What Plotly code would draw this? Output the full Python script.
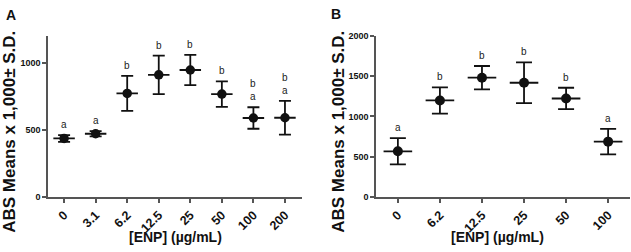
import plotly.graph_objects as go

# ---- data ----
cats_a = ["0", "3.1", "6.2", "12.5", "25", "50", "100", "200"]
mean_a = [436, 471, 771, 909, 945, 766, 588, 590]
sd_a = [25, 20, 130, 143, 113, 95, 80, 125]
letters_a = ["a", "a", "b", "b", "b", "b", "b<br>a", "b<br>a"]

cats_b = ["0", "6.2", "12.5", "25", "50", "100"]
mean_b = [567, 1198, 1480, 1417, 1222, 687]
sd_b = [163, 163, 145, 252, 133, 159]
letters_b = ["a", "b", "b", "b", "b", "a"]

ytick_a = [0, 500, 1000]
ytick_b = [0, 500, 1000, 1500, 2000]

FONT = "Liberation Sans, Arial, sans-serif"
W, H = 631, 252
INK = "#111111"
AX = "#555555"

fig = go.Figure()

def add_panel(cats, mean, sd, xa, ya, capw, meanw, msize):
    xs = list(range(len(cats)))
    fig.add_trace(go.Scatter(
        x=xs, y=mean, mode="markers",
        marker=dict(color=INK, size=msize),
        error_y=dict(type="data", array=sd, visible=True, color=INK, thickness=1.8, width=capw),
        error_x=dict(type="constant", value=meanw, visible=True, color=INK, thickness=1.8, width=0),
        xaxis=xa, yaxis=ya, showlegend=False, hoverinfo="skip",
    ))

add_panel(cats_a, mean_a, sd_a, "x", "y", 6, 0.34, 9.5)
add_panel(cats_b, mean_b, sd_b, "x2", "y2", 8, 0.34, 10)

ann = []
for i, (m, s, t) in enumerate(zip(mean_a, sd_a, letters_a)):
    ann.append(dict(x=i, y=m + s, xref="x", yref="y", text=t, showarrow=False,
                    yanchor="bottom", yshift=3, font=dict(family=FONT, size=10, color="#222")))
for i, (m, s, t) in enumerate(zip(mean_b, sd_b, letters_b)):
    ann.append(dict(x=i, y=m + s, xref="x2", yref="y2", text=t, showarrow=False,
                    yanchor="bottom", yshift=3, font=dict(family=FONT, size=10, color="#222")))

ytitle = "ABS Means x 1,000± S.D."
xtitle = "[ENP] (µg/mL)"
for xc, txt in [(10 / W, ytitle), (339 / W, ytitle)]:
    ann.append(dict(x=xc, y=1 - 132 / H, xref="paper", yref="paper", text="<b>%s</b>" % txt,
                    textangle=-90, showarrow=False, xanchor="center", yanchor="middle",
                    font=dict(family=FONT, size=17, color=INK)))
for xc in [175 / W, 497 / W]:
    ann.append(dict(x=xc, y=1 - 242 / H, xref="paper", yref="paper", text="<b>%s</b>" % xtitle,
                    showarrow=False, xanchor="center", yanchor="middle",
                    font=dict(family=FONT, size=14, color=INK)))
for xc, yc, t in [(11 / W, 1 - 10 / H, "A"), (336 / W, 1 - 9 / H, "B")]:
    ann.append(dict(x=xc, y=yc, xref="paper", yref="paper", text="<b>%s</b>" % t,
                    showarrow=False, xanchor="center", yanchor="middle",
                    font=dict(family=FONT, size=14, color=INK)))

xcommon = dict(showline=True, linecolor=AX, linewidth=1.5, ticks="outside", ticklen=4,
               tickwidth=1.5, tickcolor=AX, tickangle=-45, showgrid=False, zeroline=False,
               tickfont=dict(family=FONT, size=12.5, color=INK))
ycommon = dict(showline=True, linecolor=AX, linewidth=1.5, ticks="outside", ticklen=4,
               tickwidth=1.5, tickcolor=AX, showgrid=False, zeroline=False,
               tickfont=dict(family=FONT, size=9, color=INK))

fig.update_layout(
    width=W, height=H, margin=dict(l=0, r=0, t=0, b=0),
    paper_bgcolor="white", plot_bgcolor="white",
    xaxis=dict(domain=[48 / W, 302 / W], range=[-0.51, 7.54],
               tickvals=list(range(len(cats_a))), ticktext=[f"<b>{c}</b>" for c in cats_a],
               anchor="y", **xcommon),
    yaxis=dict(domain=[1 - 200 / H, 1 - 32 / H], range=[0, 1200], tickvals=ytick_a,
               ticktext=[f"<b>{v}</b>" for v in ytick_a], anchor="x", **ycommon),
    xaxis2=dict(domain=[376 / W, 630 / W], range=[-0.52, 5.52],
                tickvals=list(range(len(cats_b))), ticktext=[f"<b>{c}</b>" for c in cats_b],
                anchor="y2", **xcommon),
    yaxis2=dict(domain=[1 - 200 / H, 1 - 32 / H], range=[0, 2000], tickvals=ytick_b,
                ticktext=[f"<b>{v}</b>" for v in ytick_b], anchor="x2", **ycommon),
    annotations=ann,
)

fig.write_html("out.html", config={"displayModeBar": False},
               post_script="document.body.style.margin='0';document.body.style.overflow='hidden';")
